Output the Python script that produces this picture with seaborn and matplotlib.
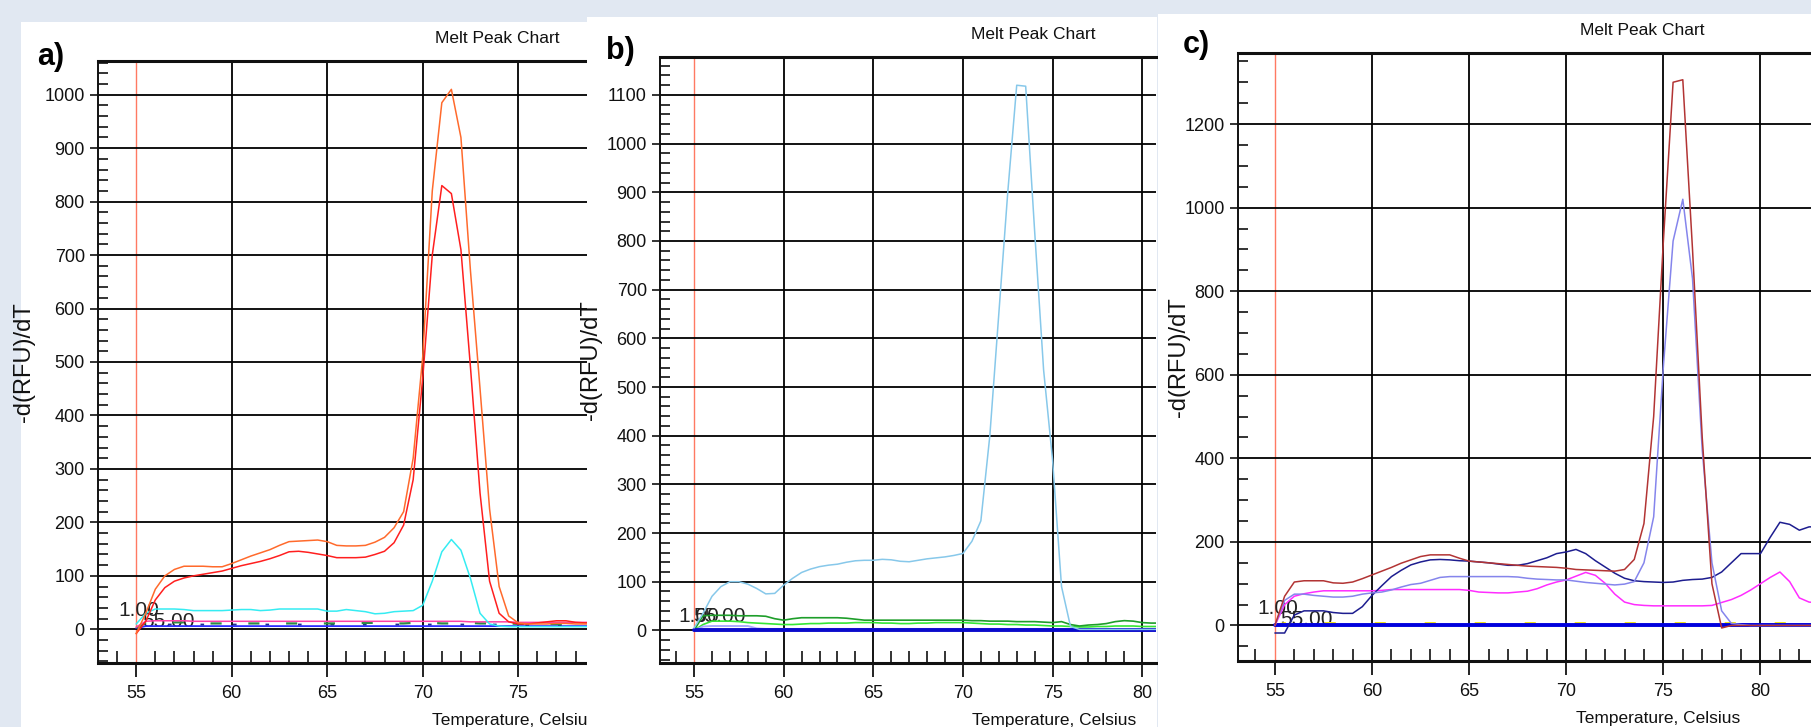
import numpy as np
import pandas as pd
import seaborn as sns
import matplotlib.pyplot as plt

# temperature steps of the melt run (0.5 C)
temp_a = np.arange(55.0, 79.01, 0.5)
temp_b = np.arange(55.0, 81.01, 0.5)
temp_c = np.arange(55.0, 83.01, 0.5)

# ---- panel a) -d(RFU)/dT ----
orange_a = [-8, 30, 75, 100, 112, 118, 118, 118, 117, 117,
            123, 130, 137, 143, 149, 157, 164, 165, 166, 167,
            164, 157, 156, 156, 157, 163, 172, 190, 220, 320,
            510, 820, 985, 1010, 920, 670, 450, 225, 80, 25,
            12, 10, 10, 10, 11, 11, 10, 10, 10]
red_a = [-8, 15, 55, 78, 90, 96, 100, 103, 106, 109,
         114, 119, 123, 127, 132, 138, 145, 146, 144, 141,
         138, 134, 134, 134, 135, 140, 146, 162, 195, 280,
         470, 700, 830, 815, 710, 490, 255, 90, 30, 14,
         10, 10, 12, 14, 16, 16, 13, 12, 12]
cyan_a = [10, 30, 38, 38, 38, 37, 35, 35, 35, 35,
          36, 37, 37, 35, 36, 38, 38, 38, 38, 38,
          34, 34, 37, 35, 33, 29, 30, 33, 34, 35,
          45, 90, 145, 168, 148, 95, 30, 10, 6, 5,
          5, 5, 5, 5, 5, 5, 5, 5, 5]
pink_a = [4, 15, 16, 16, 16, 16, 15, 15, 15, 15,
          15, 15, 15, 15, 15, 15, 15, 15, 15, 15,
          15, 15, 15, 15, 15, 15, 15, 15, 15, 15,
          15, 15, 15, 15, 15, 14, 14, 14, 14, 14,
          13, 13, 13, 13, 13, 13, 13, 13, 13]
green_a = [3, 12, 13, 13, 13, 13, 11, 11, 11, 11,
           11, 11, 11, 11, 11, 11, 11, 11, 11, 11,
           11, 11, 11, 11, 12, 12, 12, 11, 11, 12,
           12, 12, 11, 11, 12, 12, 11, 11, 11, 11,
           10, 10, 10, 10, 10, 10, 10, 10, 10]
navy_a = [2, 9, 9, 9, 9, 9, 9, 9, 9, 9,
          9, 9, 9, 9, 9, 9, 9, 9, 9, 9,
          9, 9, 9, 9, 9, 9, 9, 9, 9, 9,
          9, 9, 9, 9, 9, 9, 9, 9, 9, 9,
          8, 8, 8, 8, 8, 8, 8, 8, 8]
blue_a = [2, 6, 6, 6, 6, 6, 6, 6, 6, 6,
          6, 6, 6, 6, 6, 6, 6, 6, 6, 6,
          6, 6, 6, 6, 6, 6, 6, 6, 6, 6,
          6, 6, 6, 6, 6, 6, 6, 6, 6, 6,
          6, 6, 6, 6, 6, 6, 6, 6, 6]

# ---- panel b) ----
sky_b = [5, 35, 70, 90, 100, 100, 95, 86, 75, 76,
         93, 107, 119, 126, 131, 134, 136, 140, 143, 144,
         144, 146, 145, 142, 141, 144, 147, 149, 151, 154,
         158, 183, 225, 400, 650, 900, 1120, 1118, 820, 535,
         350, 90, 8, 2, 2, 2, 2, 2, 2, 2,
         2, 2, 2]
green_b = [0, 30, 31, 31, 31, 30, 30, 30, 29, 24,
           21, 24, 26, 26, 26, 26, 26, 25, 23, 21,
           21, 21, 21, 21, 21, 21, 21, 21, 21, 21,
           21, 20, 20, 19, 19, 19, 18, 18, 18, 17,
           16, 18, 12, 9, 11, 12, 14, 18, 20, 19,
           16, 15, 15]
lime_b = [0, 12, 19, 19, 19, 18, 16, 15, 14, 13,
          12, 12, 13, 14, 14, 15, 15, 15, 16, 16,
          16, 15, 15, 14, 14, 15, 15, 16, 16, 16,
          16, 15, 14, 13, 13, 12, 12, 11, 11, 10,
          9, 9, 8, 7, 7, 8, 8, 9, 9, 9,
          8, 8, 8]
lav_b = [0, 8, 9, 9, 9, 9, 9, 4, 3, 3,
         3, 3, 3, 3, 3, 3, 3, 3, 3, 3,
         3, 3, 3, 3, 3, 3, 3, 3, 3, 3,
         3, 3, 3, 3, 3, 3, 3, 3, 3, 3,
         3, 3, 3, 3, 3, 3, 3, 3, 3, 3,
         3, 3, 3]
base_b = [0, 0, 0, 0, 0, 0, 0, 0, 0, 0,
          0, 0, 0, 0, 0, 0, 0, 0, 0, 0,
          0, 0, 0, 0, 0, 0, 0, 0, 0, 0,
          0, 0, 0, 0, 0, 0, 0, 0, 0, 0,
          0, 0, 0, 0, 0, 0, 0, 0, 0, 0,
          0, 0, 0]

# ---- panel c) ----
brown_c = [0, 70, 104, 107, 107, 107, 102, 101, 104, 112,
           121, 130, 139, 149, 157, 165, 169, 169, 169, 161,
           154, 152, 150, 148, 146, 144, 142, 141, 140, 139,
           137, 134, 133, 132, 131, 130, 134, 158, 244, 500,
           920, 1300, 1306, 900, 450, 100, -6, 0, 0, 0,
           0, 0, 0, 0, 0, 0, 0]
lav_c = [0, 60, 75, 75, 72, 70, 68, 68, 70, 75,
         78, 80, 85, 92, 98, 101, 108, 115, 117, 117,
         117, 117, 117, 117, 117, 116, 113, 111, 110, 109,
         109, 106, 103, 101, 99, 97, 99, 105, 150, 260,
         620, 920, 1020, 830, 420, 150, 35, 5, 2, 0,
         0, 0, 0, 0, 0, 0, 0]
navy_c = [-18, -18, 25, 35, 35, 35, 31, 29, 29, 45,
          72, 95, 117, 132, 145, 152, 157, 158, 157, 155,
          154, 152, 150, 147, 144, 144, 148, 155, 162, 172,
          176, 182, 172, 155, 140, 125, 113, 107, 105, 104,
          103, 104, 108, 110, 111, 115, 128, 150, 172, 172,
          172, 211, 247, 242, 228, 236, 236]
mag_c = [0, 50, 70, 76, 80, 83, 83, 83, 83, 83,
         83, 84, 86, 86, 86, 86, 86, 86, 86, 86,
         84, 80, 79, 78, 78, 80, 82, 88, 97, 104,
         109, 118, 127, 120, 101, 75, 56, 50, 48, 47,
         47, 47, 47, 47, 47, 48, 55, 62, 72, 85,
         100, 115, 128, 105, 66, 56, 54]
yellow_c = [0, 5, 5, 5, 5, 5, 5, 5, 5, 5,
            5, 5, 5, 5, 5, 5, 5, 5, 5, 5,
            5, 5, 5, 5, 5, 5, 5, 5, 5, 5,
            5, 5, 5, 5, 5, 5, 5, 5, 5, 5,
            5, 5, 5, 5, 5, 5, 5, 5, 5, 5,
            5, 5, 5, 5, 5, 5, 5]
base_c = [0, 0, 0, 0, 0, 0, 0, 0, 0, 0,
          0, 0, 0, 0, 0, 0, 0, 0, 0, 0,
          0, 0, 0, 0, 0, 0, 0, 0, 0, 0,
          0, 0, 0, 0, 0, 0, 0, 0, 0, 0,
          0, 0, 0, 0, 0, 0, 0, 0, 0, 0,
          0, 0, 0, 0, 0, 0, 0]

x_major = [55, 60, 65, 70, 75, 80]
yticks_a = [0, 100, 200, 300, 400, 500, 600, 700, 800, 900, 1000]
yticks_b = [0, 100, 200, 300, 400, 500, 600, 700, 800, 900, 1000, 1100]
yticks_c = [0, 200, 400, 600, 800, 1000, 1200]

df_a = pd.DataFrame({"T": temp_a, "orange": orange_a, "red": red_a, "cyan": cyan_a,
                     "pink": pink_a, "green": green_a, "navy": navy_a, "blue": blue_a})
df_b = pd.DataFrame({"T": temp_b, "sky": sky_b, "green": green_b, "lime": lime_b,
                     "lav": lav_b, "base": base_b})
df_c = pd.DataFrame({"T": temp_c, "brown": brown_c, "lav": lav_c, "navy": navy_c,
                     "mag": mag_c, "yellow": yellow_c, "base": base_c})

# column, colour, width, linestyle, zorder
lines_a = [("blue", "#2b2bff", 1.3, "-", 2.0), ("navy", "#1f2f8f", 1.3, (0, (2, 16)), 2.1),
           ("green", "#2e8b45", 1.6, (0, (5, 12)), 2.2), ("pink", "#ff3fa6", 1.1, "-", 2.3),
           ("cyan", "#35ecf2", 1.1, "-", 2.4), ("red", "#ff1f1f", 1.1, "-", 2.5),
           ("orange", "#ff6a2c", 1.1, "-", 2.6)]
lines_b = [("lime", "#35e635", 1.2, "-", 2.0), ("green", "#1e9e2a", 1.2, "-", 2.1),
           ("lav", "#a9a9ff", 1.4, "-", 2.2), ("base", "#0a0acc", 2.8, "-", 2.3),
           ("sky", "#87c8ea", 1.1, "-", 2.4)]
lines_c = [("yellow", "#f0e21a", 2.0, (0, (4, 14)), 2.0), ("base", "#0000dd", 2.8, "-", 2.1),
           ("mag", "#ff2cff", 1.1, "-", 2.2), ("navy", "#1d1d8f", 1.1, "-", 2.3),
           ("lav", "#8585ec", 1.1, "-", 2.4), ("brown", "#b23434", 1.1, "-", 2.5)]

sns.set_style("ticks")
plt.rcParams["font.family"] = ["Liberation Sans", "DejaVu Sans"]

W, H = 1811, 727
fig = plt.figure(figsize=(W / 100, H / 100), dpi=100)
fig.patch.set_facecolor("#e1e8f2")


def px_box(x0, y0, x1, y1):
    return [x0 / W, 1 - y1 / H, (x1 - x0) / W, (y1 - y0) / H]


def add_frame(box, z):
    fr = fig.add_axes(px_box(*box), zorder=z)
    fr.set_facecolor("white")
    fr.set_xticks([])
    fr.set_yticks([])
    for s in fr.spines.values():
        s.set_visible(False)
    return fr


def draw_panel(box, z, df, lines, xlim, ylim, yticks, yminor, lab_x, marks):
    ax = fig.add_axes(px_box(*box), zorder=z)
    ax.set_facecolor("none")
    for col, color, lw, ls, zz in lines:
        sns.lineplot(data=df, x="T", y=col, color=color, linewidth=lw,
                     linestyle=ls, zorder=zz, ax=ax)
    ax.set_xticks(x_major)
    ax.set_xticks(np.arange(54, 84, 1), minor=True)
    ax.set_yticks(yticks)
    ax.set_yticks(yminor, minor=True)
    # limits after the ticks, set_ticks would widen them otherwise
    ax.set_xlim(*xlim)
    ax.set_ylim(*ylim)
    ax.set_axisbelow(True)
    ax.grid(True, which="major", color="black", linewidth=1.3)
    ax.tick_params(axis="x", which="major", direction="out", length=10, width=1.3,
                   pad=5.5, labelsize=13, colors="#111111")
    ax.tick_params(axis="x", which="minor", direction="in", length=8.5, width=1.2,
                   colors="#111111")
    ax.tick_params(axis="y", which="major", direction="out", length=6, width=1.2,
                   pad=3.5, labelsize=13, colors="#111111")
    ax.tick_params(axis="y", which="minor", direction="in", length=7, width=1.2,
                   colors="#111111")
    # the 55 C mark is the salmon start line
    t55 = ax.xaxis.get_major_ticks()[0]
    t55.tick1line.set_color("#ff7a62")
    t55.gridline.set_color("#ff7a62")
    t55.gridline.set_linewidth(1.0)
    ax.spines["right"].set_visible(False)
    ax.spines["top"].set_linewidth(2.2)
    ax.spines["bottom"].set_linewidth(2.2)
    ax.spines["left"].set_linewidth(1.4)
    for s in ax.spines.values():
        s.set_color("#111111")
    ax.set_xlabel("")
    ax.set_ylabel("-d(RFU)/dT", fontsize=17, color="#111111")
    ax.yaxis.set_label_coords(lab_x, 0.5)
    tr = ax.get_xaxis_transform()
    ax.annotate("Melt Peak Chart", xy=(73.9, 1), xycoords=tr, xytext=(0, 16.5),
                textcoords="offset points", ha="center", va="center", fontsize=12.5,
                color="#111111", annotation_clip=False)
    ax.annotate("Temperature, Celsius", xy=(70.5, 0), xycoords=tr, xytext=(0, -41.5),
                textcoords="offset points", ha="left", va="center", fontsize=12.5,
                color="#111111", annotation_clip=False)
    (x1, y1), (x2, y2) = marks
    ax.text(x1, y1, "1.00", fontsize=15, va="center", ha="left", color="#222222", zorder=1.9)
    ax.text(x2, y2, "55.00", fontsize=15, va="center", ha="left", color="#222222", zorder=1.9)
    return ax


# panel a
add_frame((21, 22, 587, 727), 0)
draw_panel((98, 61, 587, 663), 1, df_a, lines_a, (53.0, 78.6), (-63, 1063),
           yticks_a, np.arange(-60, 1061, 20), -63 / 489, ((54.05, 36), (55.3, 14)))
# panel b
add_frame((587, 17, 1157, 727), 2)
draw_panel((660, 57, 1156, 663), 3, df_b, lines_b, (53.1, 80.77), (-67, 1178),
           yticks_b, np.arange(-60, 1161, 20), -58 / 496, ((54.1, 29), (54.95, 29)))
# panel c
add_frame((1158, 14, 1811, 727), 4)
draw_panel((1238, 53, 1811, 661), 5, df_c, lines_c, (53.1, 82.6), (-85, 1370),
           yticks_c, np.arange(-50, 1351, 50), -48 / 573, ((54.1, 40), (55.25, 15)))

for x, y, s in [(37, 57, "a)"), (606, 51, "b)"), (1183, 45, "c)")]:
    fig.text(x / W, 1 - y / H, s, fontsize=22, fontweight="bold", ha="left",
             va="center", color="black", zorder=10)

fig.savefig("out.png", dpi=100, facecolor=fig.get_facecolor())
